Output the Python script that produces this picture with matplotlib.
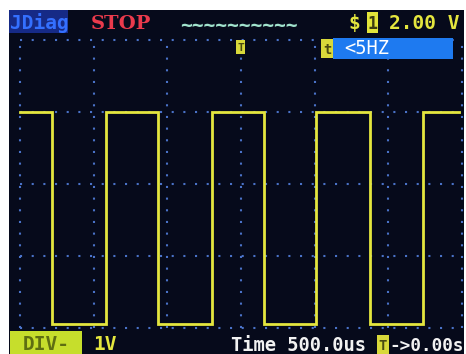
import matplotlib
matplotlib.use("Agg")
import matplotlib.pyplot as plt
from matplotlib.patches import Rectangle

# Square-wave capture: edge times (us) and the two logic levels (V)
edge_times_us = [-1285, -915, -565, -195, 155, 510, 875, 1235]
start_level = "high"
level_high_v = 6.0
level_low_v = 0.1
trace_start_us = -1500
trace_end_us = 1480

# Screen scales
time_div_us = 500
volt_div_v = 2.0
x_divs = [-1500, -1000, -500, 0, 500, 1000, 1500]
y_divs = [0, 2, 4, 6, 8]

# Status texts
title_text = "JDiag"
run_text = "STOP"
channel_text = "1"
scale_text = "2.00 V"
trigger_text = "T"
freq_text = "<5HZ"
coupling_text = "DIV-"
probe_text = "1V"
time_text = "Time 500.0us"
offset_text = "->0.00s"

W, H = 466, 354
BG = "#060a1b"
YEL = "#e4e63e"
DOT = "#4a72c8"
MONO = "DejaVu Sans Mono"

fig = plt.figure(figsize=(W / 100, H / 100), dpi=100, facecolor="white")


def fx(px):
    return px / W


def fy(py):
    return 1 - py / H


def box(x0, y0, x1, y1, color, z=3):
    fig.patches.append(Rectangle((fx(x0), fy(y1)), fx(x1) - fx(x0), fy(y0) - fy(y1),
                                 transform=fig.transFigure, facecolor=color,
                                 edgecolor="none", zorder=z))


def label(px, py, s, color, size=13.5, weight="bold", ha="left", family=MONO):
    fig.text(fx(px), fy(py), s, color=color, fontsize=size, fontweight=weight,
             family=family, ha=ha, va="baseline", zorder=5)


# Screen background
box(9, 10, 464, 354, BG, z=-1)

# Plot area with dotted graticule
ax = fig.add_axes([fx(20), fy(328), fx(462) - fx(20), fy(40) - fy(328)])
ax.set_zorder(1)
ax.set_facecolor("none")
ax.set_xlim(x_divs[0], x_divs[-1])
ax.set_ylim(y_divs[0], y_divs[-1])
for s in ax.spines.values():
    s.set_visible(False)
ax.set_xticks([])
ax.set_yticks([])

dots = (0, (1, 4.6))
for xv in x_divs:
    ax.axvline(xv, color=DOT, lw=1.5, linestyle=dots, dash_capstyle="butt", clip_on=False, zorder=1)
for yv in y_divs:
    ax.axhline(yv, color=DOT, lw=1.5, linestyle=dots, dash_capstyle="butt", clip_on=False, zorder=1)

# Build the stepped trace from the edge list
levels = {"high": level_high_v, "low": level_low_v}
state = start_level
ts = [trace_start_us]
vs = [levels[state]]
for e in edge_times_us:
    ts.append(e)
    vs.append(levels[state])
    state = "low" if state == "high" else "high"
    ts.append(e)
    vs.append(levels[state])
ts.append(trace_end_us)
vs.append(levels[state])
ax.plot(ts, vs, color=YEL, lw=2.0, solid_joinstyle="miter", clip_on=False, zorder=3)

# Header row
box(9, 10, 68, 33, "#162a86")
label(10, 29, title_text, "#3470ff", size=14)
label(91, 29, run_text, "#ea3a4c", size=14, family="DejaVu Serif")
label(180, 31, "~" * 10, "#a0e2cc", size=14)
label(349, 29, "$", YEL, size=14)
box(367, 12, 378, 33, "#e2e43a")
label(372.5, 29, channel_text, "#3c3c10", size=12, ha="center")
label(389, 29, scale_text, YEL, size=14)

# Trigger markers and frequency readout
box(236, 40, 245, 54, "#d8d83a")
label(240.5, 51, trigger_text, "#4a4a12", size=8, ha="center")
box(321, 39, 333, 58, "#d8d83a")
label(327, 54, "t", "#4a4a12", size=10, ha="center")
box(333, 38, 453, 59, "#1e7af0")
label(344, 54, freq_text, "white", size=13.5, weight="normal")

# Footer row
box(10, 331, 82, 354, "#c6de2c")
label(46, 350, coupling_text, "#5e6e12", size=14, ha="center")
label(93, 350, probe_text, YEL, size=14)
label(231, 351, time_text, "#f2f2f2", size=13.5)
box(377, 335, 389, 354, "#d8d83a")
label(383, 350, trigger_text, "#4a4a12", size=10, ha="center")
label(389, 351, offset_text, "#f2f2f2", size=12.8)

fig.savefig("out.png", dpi=100, facecolor="white")
